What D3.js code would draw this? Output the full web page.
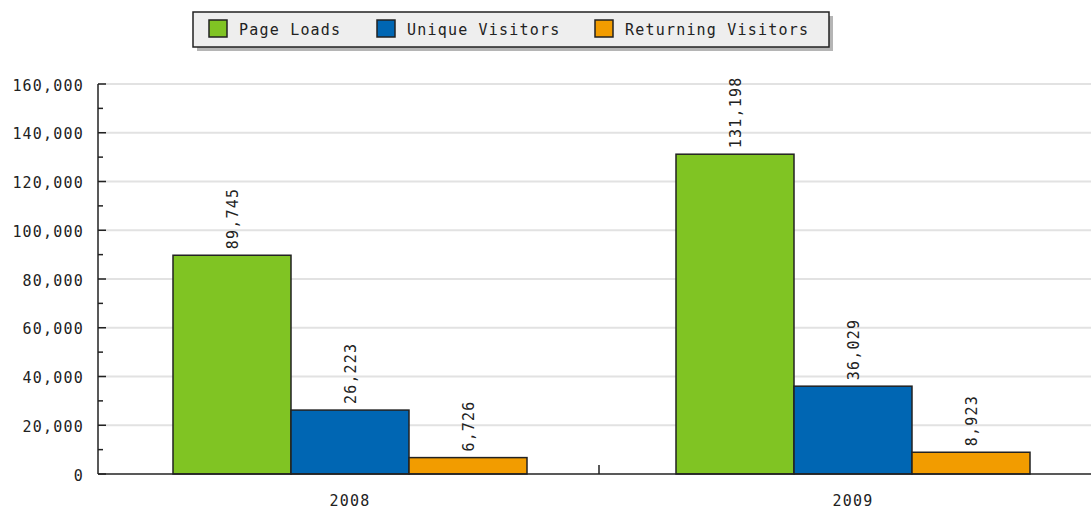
<!DOCTYPE html>
<html>
<head>
<meta charset="utf-8">
<script src="https://cdn.jsdelivr.net/npm/d3@7"></script>
<style>
  body { margin: 0; background: #fff; }
  text { font-family: "DejaVu Sans Mono", monospace; fill: #222; letter-spacing: 1.2px; }
</style>
</head>
<body>
<script>
// data
const years = ["2008", "2009"];
const seriesNames = ["Page Loads", "Unique Visitors", "Returning Visitors"];
const pageLoads = [89745, 131198];
const uniqueVisitors = [26223, 36029];
const returningVisitors = [6726, 8923];
const yTicks = [0, 20000, 40000, 60000, 80000, 100000, 120000, 140000, 160000];
const colors = ["#80c423", "#0066b3", "#f29c00"];

const W = 1091, H = 510;
const margin = {top: 84, right: 0, bottom: 36, left: 98};
const w = 1006;
const h = H - margin.top - margin.bottom;

const svg = d3.select("body").append("svg")
    .attr("width", W)
    .attr("height", H);

const g = svg.append("g")
    .attr("transform", "translate(" + margin.left + "," + margin.top + ")");

const allSeries = [pageLoads, uniqueVisitors, returningVisitors];

// scales
const x0 = d3.scaleBand().domain(years).range([0, w]);
const x1 = d3.scaleBand().domain(seriesNames).range([75, 429]);
const y = d3.scaleLinear().domain([0, 160000]).range([h, 0]);
const fmt = d3.format(",");

// grid
g.append("g").selectAll("line")
    .data(yTicks.filter(t => t > 0))
    .enter().append("line")
    .attr("x1", 0).attr("x2", W)
    .attr("y1", d => y(d)).attr("y2", d => y(d))
    .attr("stroke", "#e2e2e2")
    .attr("stroke-width", 2);

// bars
const groups = g.selectAll(".year")
    .data(years)
    .enter().append("g")
    .attr("transform", d => "translate(" + x0(d) + ",0)");

groups.each(function(yr, i) {
    const rows = seriesNames.map((s, k) => ({s: s, k: k, v: allSeries[k][i]}));
    const gg = d3.select(this);
    gg.selectAll("rect")
        .data(rows)
        .enter().append("rect")
        .attr("x", d => x1(d.s))
        .attr("y", d => y(d.v))
        .attr("width", x1.bandwidth())
        .attr("height", d => h - y(d.v))
        .attr("fill", d => colors[d.k])
        .attr("stroke", "#222")
        .attr("stroke-width", 1.5);

    gg.selectAll("text")
        .data(rows)
        .enter().append("text")
        .attr("transform", d => "translate(" + (x1(d.s) + x1.bandwidth() / 2 + 6) + "," + (y(d.v) - 6) + ") rotate(-90)")
        .attr("font-size", 15)
        .text(d => fmt(d.v));
});

// y axis
const yAxis = g.append("g").call(d3.axisLeft(y).tickValues(yTicks).tickSize(0).tickFormat(fmt));
yAxis.select(".domain").remove();
yAxis.selectAll("text")
    .attr("x", -14)
    .attr("dy", "0.4em")
    .attr("font-size", 15)
    .attr("font-family", "DejaVu Sans Mono")
    .attr("fill", "#222");

g.append("line")
    .attr("x1", 0).attr("x2", 0)
    .attr("y1", 0).attr("y2", h)
    .attr("stroke", "#222").attr("stroke-width", 1.5);

// major and minor ticks inside the plot
g.append("g").selectAll("line")
    .data(d3.range(0, 160001, 10000))
    .enter().append("line")
    .attr("x1", 0)
    .attr("x2", d => d % 20000 === 0 ? 8 : 5)
    .attr("y1", d => y(d)).attr("y2", d => y(d))
    .attr("stroke", "#222").attr("stroke-width", 1.5);

// x axis
g.append("line")
    .attr("x1", 0).attr("x2", W)
    .attr("y1", h).attr("y2", h)
    .attr("stroke", "#222").attr("stroke-width", 1.5);

g.append("line")
    .attr("x1", x0("2009") - 2).attr("x2", x0("2009") - 2)
    .attr("y1", h - 9).attr("y2", h)
    .attr("stroke", "#222").attr("stroke-width", 1.5);

g.selectAll(".xlab")
    .data(years)
    .enter().append("text")
    .attr("x", d => x0(d) + x1(seriesNames[1]) + x1.bandwidth() / 2)
    .attr("y", h + 32)
    .attr("text-anchor", "middle")
    .attr("font-size", 15)
    .text(d => d);

// legend
const lg = svg.append("g");
lg.append("rect")
    .attr("x", 197).attr("y", 16)
    .attr("width", 636).attr("height", 35)
    .attr("fill", "#b5b5b5");
lg.append("rect")
    .attr("x", 193).attr("y", 12)
    .attr("width", 636).attr("height", 35)
    .attr("fill", "#eeeeee")
    .attr("stroke", "#222").attr("stroke-width", 1.5);

const legendX = [209, 377, 595];
const items = lg.selectAll(".item")
    .data(seriesNames)
    .enter().append("g")
    .attr("transform", (d, i) => "translate(" + legendX[i] + ",20)");
items.append("rect")
    .attr("width", 18).attr("height", 17)
    .attr("fill", (d, i) => colors[i])
    .attr("stroke", "#222").attr("stroke-width", 1.5);
items.append("text")
    .attr("x", 30).attr("y", 15)
    .attr("font-size", 15)
    .text(d => d);
</script>
</body>
</html>
